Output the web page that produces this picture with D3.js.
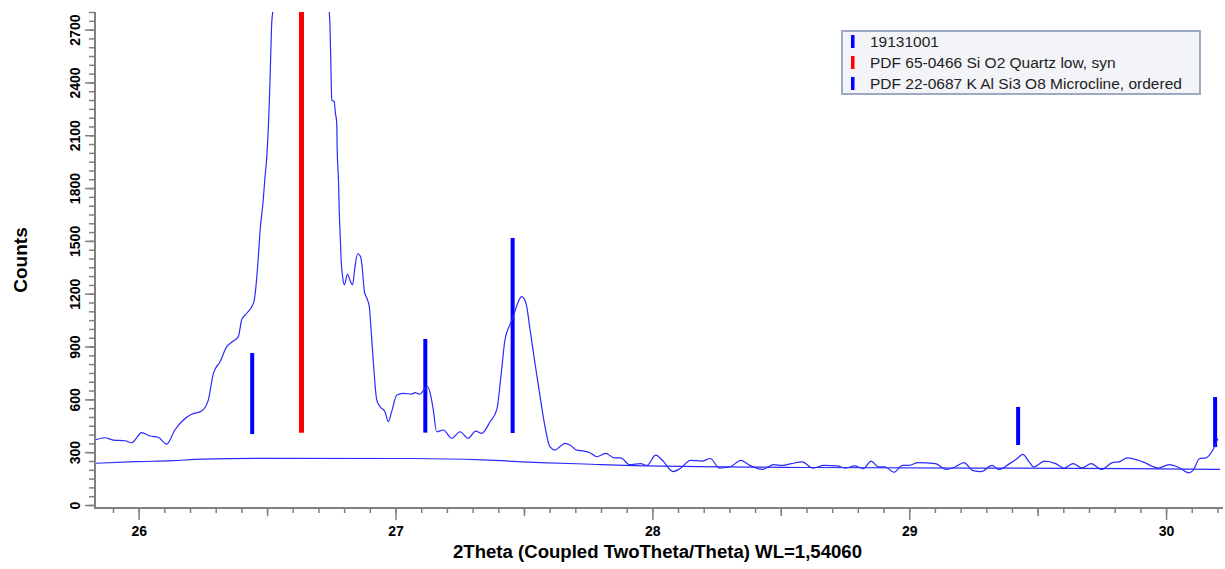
<!DOCTYPE html>
<html>
<head>
<meta charset="utf-8">
<script src="https://cdnjs.cloudflare.com/ajax/libs/d3/7.8.5/d3.min.js"></script>
<style>
body { margin: 0; background: #fff; }
text { font-family: "Liberation Sans", Arial, sans-serif; }
</style>
</head>
<body>
<div id="chart"></div>
<script>
// measured scan (2theta, counts) - main quartz peak goes far above the axis
var scanTheta = [25.830,25.869,25.901,25.947,25.973,26.012,26.044,26.076,26.109,26.141,26.174,26.206,26.245,26.271,26.291,26.317,26.343,26.362,26.388,26.401,26.421,26.440,26.450,26.466,26.472,26.485,26.492,26.498,26.505,26.509,26.514,26.518,26.522,26.634,26.742,26.745,26.748,26.752,26.761,26.766,26.771,26.773,26.778,26.781,26.785,26.789,26.794,26.801,26.813,26.823,26.833,26.842,26.853,26.864,26.870,26.879,26.889,26.898,26.905,26.914,26.927,26.940,26.959,26.972,26.985,27.005,27.030,27.063,27.076,27.095,27.113,27.125,27.138,27.147,27.160,27.186,27.219,27.251,27.283,27.312,27.336,27.368,27.394,27.413,27.426,27.448,27.459,27.478,27.491,27.508,27.524,27.543,27.563,27.582,27.601,27.621,27.640,27.660,27.679,27.705,27.731,27.757,27.784,27.818,27.852,27.877,27.911,27.954,27.979,28.013,28.039,28.081,28.107,28.149,28.192,28.226,28.260,28.302,28.345,28.379,28.430,28.472,28.507,28.541,28.583,28.625,28.668,28.719,28.753,28.787,28.821,28.852,28.881,28.906,28.940,28.974,29.000,29.034,29.102,29.144,29.178,29.213,29.246,29.280,29.323,29.348,29.391,29.417,29.442,29.467,29.485,29.527,29.570,29.604,29.638,29.672,29.709,29.748,29.791,29.816,29.850,29.910,29.969,30.012,30.054,30.088,30.105,30.131,30.156,30.182,30.202]
var scanCounts = [369,382,369,365,354,411,392,385,346,426,483,515,534,596,748,814,899,924,956,1051,1089,1126,1164,1410,1545,1732,1865,1959,2149,2300,2546,2736,2802,9000,2802,2717,2518,2300,2291,2226,2170,2016,1840,1670,1516,1374,1297,1250,1312,1275,1250,1352,1426,1410,1353,1211,1173,1126,994,805,596,558,530,473,530,625,634,630,638,629,659,672,615,540,416,426,379,416,379,420,407,473,540,767,937,1032,1073,1155,1183,1146,994,805,615,445,331,312,331,350,341,312,307,297,274,293,268,268,229,235,225,283,254,190,206,254,249,264,210,216,254,225,202,229,225,235,245,210,225,222,210,222,206,249,216,216,186,225,225,241,235,202,216,241,197,190,225,202,235,260,287,245,216,249,235,210,235,210,235,202,241,245,268,245,210,229,210,183,197,264,268,312,377]

// background line
var bgTheta = [25.830,25.986,26.130,26.247,26.519,27.068,27.341,27.563,27.734,27.991,28.618,29.860,30.210]
var bgCounts = [237,246,252,260,265,264,256,241,233,222,213,207,202]

// reference patterns
var quartzTheta = [26.634]
var quartzBase = [411]
var quartzTop = [9000]
var microTheta = [26.442,27.116,27.456,29.424,30.191]
var microBase = [403,411,409,341,329]
var microTop = [863,943,1516,557,613]

var yTicks = [0,300,600,900,1200,1500,1800,2100,2400,2700]
var xTicks = [26,27,28,29,30]
var legendLabels = ["19131001","PDF 65-0466 Si O2 Quartz low, syn","PDF 22-0687 K Al Si3 O8 Microcline, ordered"]
var legendColors = ["#0000ff","#ff0000","#0000ff"]

var W = 1225, H = 569
var plotLeft = 95, plotRight = 1220, plotTop = 12, axisY = 508

var svg = d3.select("#chart").append("svg")
    .attr("width", W)
    .attr("height", H)

var x = d3.scaleLinear().domain([25.83, 30.21]).range([plotLeft, plotRight])
var y = d3.scaleLinear().domain([0, 2800]).range([505, plotTop])

svg.append("clipPath").attr("id", "plotclip")
  .append("rect")
    .attr("x", plotLeft + 1).attr("y", plotTop)
    .attr("width", W - plotLeft).attr("height", axisY - plotTop)

var plot = svg.append("g").attr("clip-path", "url(#plotclip)")

// bars of the reference patterns
plot.selectAll(".micro")
    .data(microTheta)
    .enter().append("line")
    .attr("class", "micro")
    .attr("x1", function(d) { return x(d) })
    .attr("x2", function(d) { return x(d) })
    .attr("y1", function(d, i) { return y(microBase[i]) })
    .attr("y2", function(d, i) { return y(microTop[i]) })
    .attr("stroke", "#0000ff")
    .attr("stroke-width", 4)

plot.selectAll(".quartz")
    .data(quartzTheta)
    .enter().append("line")
    .attr("class", "quartz")
    .attr("x1", function(d) { return x(d) })
    .attr("x2", function(d) { return x(d) })
    .attr("y1", function(d, i) { return y(quartzBase[i]) })
    .attr("y2", function(d, i) { return y(quartzTop[i]) })
    .attr("stroke", "#ff0000")
    .attr("stroke-width", 5)

var line = d3.line()
    .x(function(d) { return x(d[0]) })
    .y(function(d) { return y(d[1]) })
    .curve(d3.curveMonotoneX)

plot.append("path")
    .datum(d3.zip(bgTheta, bgCounts))
    .attr("d", line)
    .attr("fill", "none")
    .attr("stroke", "#2a2aff")
    .attr("stroke-width", 1.2)

plot.append("path")
    .datum(d3.zip(scanTheta, scanCounts))
    .attr("d", line)
    .attr("fill", "none")
    .attr("stroke", "#2a2aff")
    .attr("stroke-width", 1.2)

// axes
var axisColor = "#808080"

var yMinor = svg.append("g")
    .attr("transform", "translate(" + plotLeft + ",0)")
    .call(d3.axisLeft(y).tickValues(d3.range(0, 2801, 50)).tickSize(6).tickFormat(""))
var yMajor = svg.append("g")
    .attr("transform", "translate(" + plotLeft + ",0)")
    .call(d3.axisLeft(y).tickValues(yTicks).tickSize(10).tickFormat(d3.format("d")))
yMajor.selectAll("text")
    .attr("transform", "rotate(-90)")
    .attr("x", 0)
    .attr("y", -15)
    .attr("dy", 0)
    .style("text-anchor", "middle")
    .style("font-size", "14px")
    .style("font-weight", "bold")
    .attr("fill", "#000")

var xMinor = svg.append("g")
    .attr("transform", "translate(0," + axisY + ")")
    .call(d3.axisBottom(x).tickValues(d3.range(259, 303).map(function(v) { return v / 10 })).tickSize(5).tickFormat(""))
var xHalf = svg.append("g")
    .attr("transform", "translate(0," + axisY + ")")
    .call(d3.axisBottom(x).tickValues([26.5, 27.5, 28.5, 29.5]).tickSize(8).tickFormat(""))
var xMajor = svg.append("g")
    .attr("transform", "translate(0," + axisY + ")")
    .call(d3.axisBottom(x).tickValues(xTicks).tickSize(12).tickPadding(6).tickFormat(d3.format("d")))
xMajor.selectAll("text")
    .style("font-size", "14px")
    .style("font-weight", "bold")
    .attr("fill", "#000")

svg.selectAll(".domain").remove()
svg.selectAll(".tick line").attr("stroke", axisColor).attr("stroke-width", 1.5)

svg.append("line")
    .attr("x1", plotLeft).attr("x2", plotLeft)
    .attr("y1", plotTop).attr("y2", axisY + 1)
    .attr("stroke", axisColor).attr("stroke-width", 2)
svg.append("line")
    .attr("x1", plotLeft - 1).attr("x2", W - 2)
    .attr("y1", axisY).attr("y2", axisY)
    .attr("stroke", axisColor).attr("stroke-width", 2)

// axis titles
svg.append("text")
    .attr("transform", "translate(20,260) rotate(-90)")
    .attr("text-anchor", "middle")
    .attr("dominant-baseline", "central")
    .style("font-size", "19px")
    .style("font-weight", "bold")
    .text("Counts")

svg.append("text")
    .attr("x", (plotLeft + plotRight) / 2)
    .attr("y", 552)
    .attr("text-anchor", "middle")
    .attr("dominant-baseline", "central")
    .attr("textLength", 409)
    .attr("lengthAdjust", "spacingAndGlyphs")
    .style("font-size", "18px")
    .style("font-weight", "bold")
    .text("2Theta (Coupled TwoTheta/Theta) WL=1,54060")

// legend
var legend = svg.append("g")
legend.append("rect")
    .attr("x", 842).attr("y", 31)
    .attr("width", 358).attr("height", 63)
    .attr("fill", "#f3f4f8")
    .attr("stroke", "#9ca8c4")
    .attr("stroke-width", 2)

var rows = legend.selectAll(".row")
    .data(legendLabels)
    .enter().append("g")
    .attr("class", "row")
    .attr("transform", function(d, i) { return "translate(0," + (41 + i * 21) + ")" })
rows.append("rect")
    .attr("x", 851).attr("y", -6)
    .attr("width", 3.5).attr("height", 13)
    .attr("fill", function(d, i) { return legendColors[i] })
rows.append("text")
    .attr("x", 870)
    .attr("dominant-baseline", "central")
    .style("font-size", "15.5px")
    .attr("fill", "#222")
    .text(function(d) { return d })
</script>
</body>
</html>
